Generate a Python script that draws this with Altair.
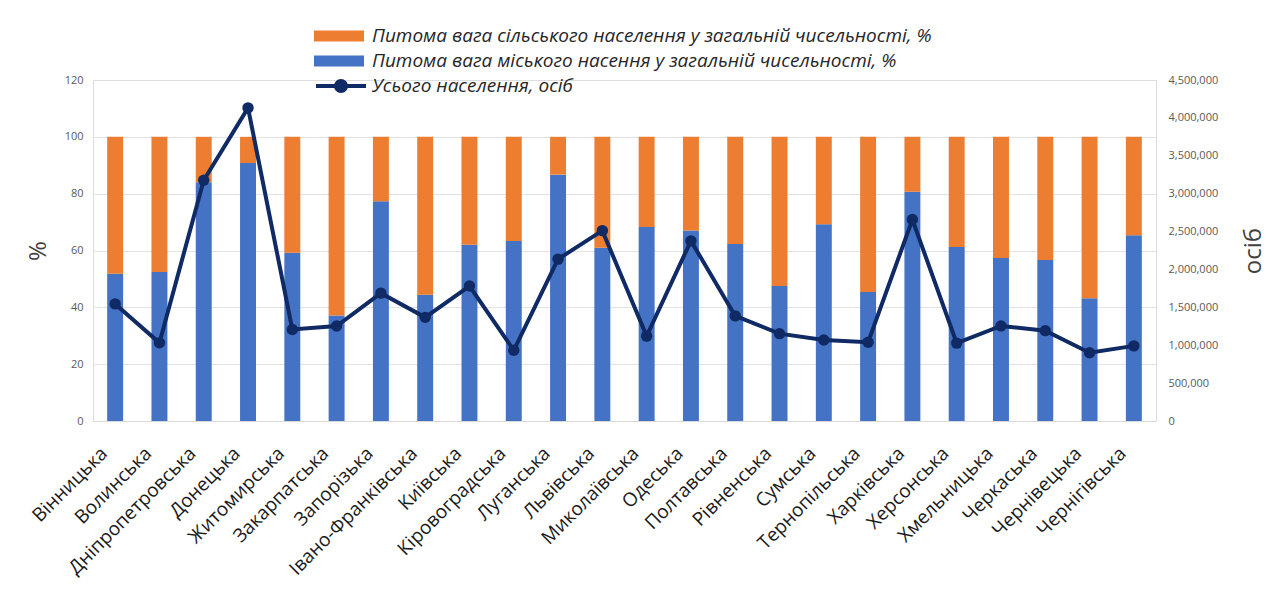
import altair as alt
import pandas as pd

regions = ["Вінницька", "Волинська", "Дніпропетровська", "Донецька", "Житомирська",
           "Закарпатська", "Запорізька", "Івано-Франківська", "Київська", "Кіровоградська",
           "Луганська", "Львівська", "Миколаївська", "Одеська", "Полтавська", "Рівненська",
           "Сумська", "Тернопільська", "Харківська", "Херсонська", "Хмельницька",
           "Черкаська", "Чернівецька", "Чернігівська"]
urban_pct = [51.8, 52.4, 84.0, 90.8, 59.2, 37.1, 77.3, 44.4, 62.0, 63.3, 86.7, 61.0,
             68.3, 67.0, 62.3, 47.5, 69.2, 45.4, 80.7, 61.2, 57.4, 56.7, 43.2, 65.4]
rural_pct = [48.2, 47.6, 16.0, 9.2, 40.8, 62.9, 22.7, 55.6, 38.0, 36.7, 13.3, 39.0,
             31.7, 33.0, 37.7, 52.5, 30.8, 54.6, 19.3, 38.8, 42.6, 43.3, 56.8, 34.6]
population = [1545416, 1031421, 3176648, 4131808, 1208212, 1253791, 1687401, 1368097,
              1781044, 933109, 2135913, 2512084, 1119862, 2377230, 1386978, 1152576,
              1068247, 1038695, 2658461, 1027913, 1254702, 1192137, 901632, 991294]
left_ticks = [0, 20, 40, 60, 80, 100, 120]
right_ticks = [0, 500000, 1000000, 1500000, 2000000, 2500000, 3000000, 3500000,
               4000000, 4500000]

RURAL = "Питома вага сільського населення у загальній чисельності, %"
URBAN = "Питома вага міського насення у загальній чисельності, %"
TOTAL = "Усього населення, осіб"

bar_rows = []
for r, u, ru in zip(regions, urban_pct, rural_pct):
    bar_rows.append({"region": r, "series": URBAN, "value": u, "ord": 0})
    bar_rows.append({"region": r, "series": RURAL, "value": ru, "ord": 1})
bar_df = pd.DataFrame(bar_rows)
pop_df = pd.DataFrame({"region": regions, "pop": population, "series": TOTAL})

NAVY = "#0F2A64"
FONT = "Open Sans"

x_enc = alt.X("region:N", sort=regions, title=None,
              scale=alt.Scale(paddingInner=0.64, paddingOuter=0.32),
              axis=alt.Axis(labelAngle=-45, labelFontSize=19, labelColor="#1a1a1a",
                            labelFont=FONT, labelPadding=29, labelOffset=-11, ticks=False,
                            labelBaseline="middle", labelAlign="right",
                            domainColor="#D9D9D9", labelLimit=300))

bars = alt.Chart(bar_df).mark_bar().encode(
    x=x_enc,
    y=alt.Y("value:Q", stack="zero",
            scale=alt.Scale(domain=[0, 120], nice=False),
            axis=alt.Axis(values=left_ticks, title="%",
                          titleFontSize=24, titleFont=FONT, titleFontWeight="normal",
                          titleColor="#404040", titlePadding=14,
                          labelFontSize=11, labelColor="#595959", labelFont=FONT,
                          labelPadding=10, ticks=False, domain=False,
                          gridColor="#E3E3E3",
                          gridOpacity={"condition": {"test": "datum.value >= 120", "value": 0},
                                       "value": 1})),
    fill=alt.Fill("series:N",
                  scale=alt.Scale(domain=[RURAL, URBAN], range=["#ED7D31", "#4472C4"]),
                  legend=alt.Legend(title=None, orient="none", legendX=222, legendY=-54,
                                    symbolType="M-2.5,-0.55H2.5V0.55H-2.5Z",
                                    symbolSize=400, symbolStrokeWidth=0,
                                    symbolOffset=14, labelOffset=23,
                                    labelFont=FONT, labelFontStyle="italic",
                                    labelFontSize=19, labelColor="#262626",
                                    labelLimit=800, rowPadding=5)),
    order=alt.Order("ord:Q", sort="ascending"),
)

right_axis = alt.Axis(orient="right", values=right_ticks,
                      format=",.0f", title="осіб", titleAngle=-90,
                      titleFontSize=24, titleFont=FONT, titleFontWeight="normal",
                      titleColor="#404040", titlePadding=48,
                      labelFontSize=11, labelColor="#595959", labelFont=FONT,
                      labelPadding=12, ticks=False, domain=False, grid=False)
right_scale = alt.Scale(domain=[0, 4500000], nice=False)

line = alt.Chart(pop_df).mark_line(strokeWidth=4).encode(
    x=alt.X("region:N", sort=regions),
    y=alt.Y("pop:Q", scale=right_scale, axis=right_axis),
    stroke=alt.Stroke("series:N", scale=alt.Scale(domain=[TOTAL], range=[NAVY]),
                      legend=alt.Legend(title=None, orient="none", legendX=222, legendY=-6,
                                        symbolType="M-2.5,0H2.5M0.5,0A0.5,0.5,0,1,1,-0.5,0A0.5,0.5,0,1,1,0.5,0Z",
                                        symbolSize=400, symbolStrokeWidth=4,
                                        symbolFillColor=NAVY,
                                        symbolOffset=14, labelOffset=19,
                                        labelFont=FONT, labelFontStyle="italic",
                                        labelFontSize=19, labelColor="#262626",
                                        labelLimit=800)),
)
points = alt.Chart(pop_df).mark_point(filled=True, size=130, color=NAVY, opacity=1).encode(
    x=alt.X("region:N", sort=regions),
    y=alt.Y("pop:Q", scale=right_scale, axis=right_axis),
)

chart = alt.layer(bars, alt.layer(line, points)).resolve_scale(
    y="independent", fill="independent", stroke="independent"
).properties(
    width=1063, height=341,
    padding={"left": 85, "top": 72, "right": 120, "bottom": 160},
    autosize=alt.AutoSizeParams(type="none"),
).configure_view(stroke=None).configure(background="white")

chart.save("out.html", embed_options={"renderer": "svg", "actions": False})
